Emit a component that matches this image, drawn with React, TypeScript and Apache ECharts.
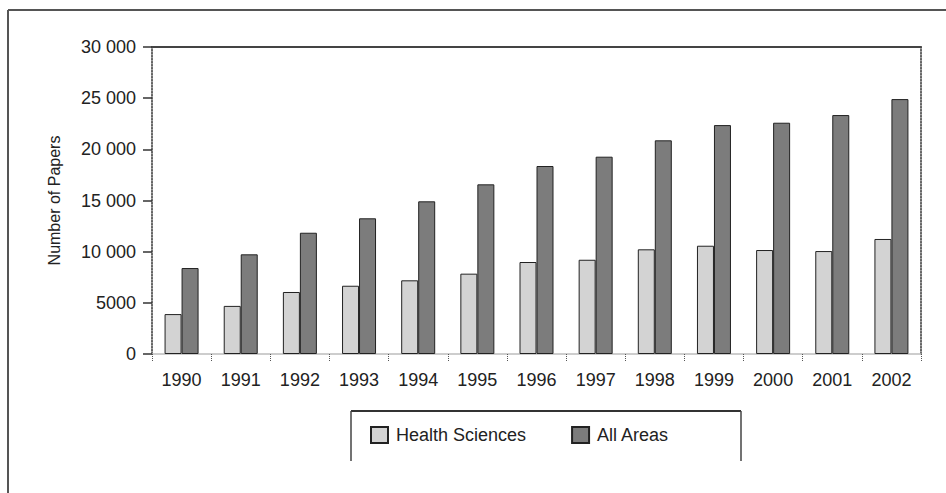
import React, { useEffect, useRef } from "react";
import * as echarts from "echarts";

const years = ["1990", "1991", "1992", "1993", "1994", "1995", "1996", "1997", "1998", "1999", "2000", "2001", "2002"];
const healthSciences = [3900, 4700, 6060, 6670, 7200, 7850, 8990, 9210, 10230, 10580, 10160, 10060, 11240];
const allAreas = [8400, 9740, 11850, 13260, 14920, 16580, 18370, 19280, 20880, 22370, 22600, 23350, 24910];
const seriesNames = ["Health Sciences", "All Areas"];
const yAxisTitle = "Number of Papers";

const FONT = "'Liberation Sans', Arial, sans-serif";

function fmt(v: number): string {
  if (v >= 10000) {
    const th = Math.floor(v / 1000);
    const rest = String(v % 1000).padStart(3, "0");
    return th + " " + rest;
  }
  return String(v);
}

export default function App() {
  const ref = useRef<HTMLDivElement>(null);
  useEffect(() => {
    if (!ref.current) return;
    const chart = echarts.init(ref.current, undefined, { renderer: "svg" });
    chart.setOption({
      animation: false,
      backgroundColor: "#ffffff",
      textStyle: { fontFamily: FONT },
      grid: { left: 152, right: 25, top: 47, bottom: 139 },
      legend: {
        left: 370,
        top: 426,
        padding: 0,
        icon: "rect",
        itemWidth: 17,
        itemHeight: 16,
        itemGap: 45,
        textStyle: { fontFamily: FONT, fontSize: 18, color: "#222", padding: [0, 0, 0, 3] },
        data: seriesNames,
      },
      xAxis: [
        {
          type: "category",
          data: years,
          axisLine: { show: true, lineStyle: { color: "#bdbdbd", width: 1.5 } },
          axisTick: { show: true, length: 8, lineStyle: { color: "#555", type: "dotted" } },
          axisLabel: { margin: 17, fontSize: 18, color: "#222", fontFamily: FONT },
        },
        {
          type: "category",
          position: "top",
          data: years,
          axisLine: { show: true, onZero: false, lineStyle: { color: "#444", width: 2 } },
          axisTick: { show: false },
          axisLabel: { show: false },
        },
      ],
      yAxis: [
        {
          type: "value",
          min: 0,
          max: 30000,
          interval: 5000,
          name: yAxisTitle,
          nameLocation: "middle",
          nameGap: 90,
          nameTextStyle: { fontSize: 16, color: "#222", fontFamily: FONT },
          axisLine: { show: true, onZero: false, lineStyle: { color: "#333", width: 1.5, type: "dotted" } },
          axisTick: { show: true, length: 9, lineStyle: { color: "#333", width: 1.5 } },
          splitLine: { show: false },
          axisLabel: {
            margin: 16,
            fontSize: 18,
            color: "#222",
            fontFamily: FONT,
            formatter: (v: number) => fmt(v),
          },
        },
        {
          type: "value",
          position: "right",
          min: 0,
          max: 30000,
          interval: 5000,
          axisLine: { show: true, onZero: false, lineStyle: { color: "#333", width: 1.5, type: "dotted" } },
          axisTick: { show: false },
          axisLabel: { show: false },
          splitLine: { show: false },
        },
      ],
      series: [
        {
          name: seriesNames[0],
          type: "bar",
          data: healthSciences,
          barWidth: 17,
          barGap: "0%",
          itemStyle: { color: "#d3d3d3", borderColor: "#222", borderWidth: 1 },
        },
        {
          name: seriesNames[1],
          type: "bar",
          data: allAreas,
          barWidth: 17,
          barGap: "0%",
          itemStyle: { color: "#7c7c7c", borderColor: "#222", borderWidth: 1 },
        },
      ],
      graphic: [
        { type: "line", shape: { x1: 8, y1: 10, x2: 946, y2: 10 }, style: { stroke: "#555", lineWidth: 2 } },
        { type: "line", shape: { x1: 8, y1: 10, x2: 8, y2: 493 }, style: { stroke: "#555", lineWidth: 2 } },
        { type: "line", shape: { x1: 351, y1: 411, x2: 741, y2: 411 }, style: { stroke: "#333", lineWidth: 2 } },
        { type: "line", shape: { x1: 351, y1: 411, x2: 351, y2: 461 }, style: { stroke: "#444", lineWidth: 1.5 } },
        { type: "line", shape: { x1: 741, y1: 411, x2: 741, y2: 461 }, style: { stroke: "#444", lineWidth: 1.5 } },
      ],
    });
    return () => chart.dispose();
  }, []);
  return <div ref={ref} style={{ width: 946, height: 493, position: "absolute", left: 0, top: 0 }} />;
}
